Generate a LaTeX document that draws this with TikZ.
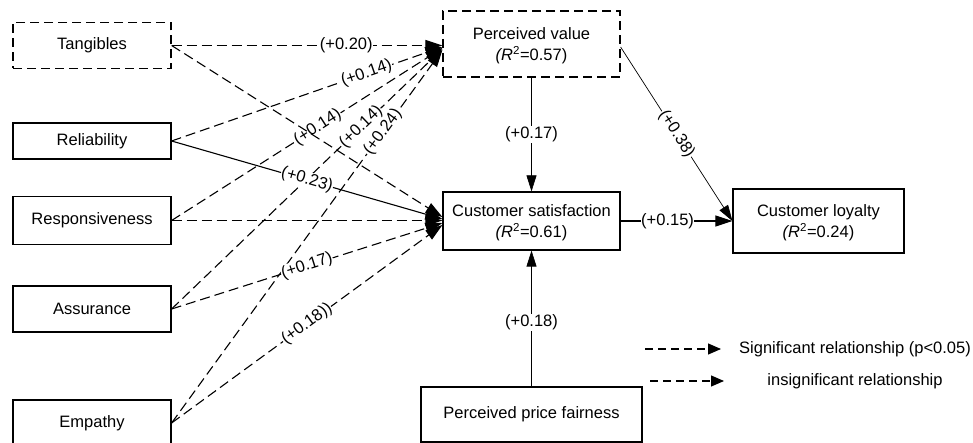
\documentclass[tikz,border=0pt]{standalone}
\usepackage{fontspec}
\setmainfont{Liberation Sans}
\usetikzlibrary{arrows.meta}
\begin{document}
\begin{tikzpicture}[x=1pt,y=-1pt,
  font=\fontsize{16.5}{21}\selectfont,
  box/.style={draw, line width=1.2pt, inner sep=0pt, align=center},
  dbox/.style={box, dash pattern=on 9pt off 5pt},
  two/.style={text depth=0pt},
  sig/.style={line width=1.1pt, -{Triangle[length=17pt,width=11pt]}},
  ins/.style={sig, dash pattern=on 10pt off 5pt},
  thinarr/.style={line width=0.7pt, -{Triangle[length=16pt,width=10pt]}},
  legarr/.style={line width=1.2pt, dash pattern=on 8pt off 5pt, -{Triangle[length=13pt,width=11pt]}},
  lab/.style={fill=white, inner sep=0.5pt, sloped},
  hlab/.style={fill=white, inner sep=0.5pt}]
\useasboundingbox (0,0) rectangle (973,443);

% left constructs
\node[dbox, minimum width=158pt, minimum height=46pt] (tang) at (92,45.5) {Tangibles};
\node[box, minimum width=158pt, minimum height=36pt] (rel) at (92,141) {Reliability};
\node[box, minimum width=158pt, minimum height=48pt] (resp) at (92,220.5) {Responsiveness};
\node[box, minimum width=158pt, minimum height=46pt] (assur) at (92,309) {Assurance};
\node[box, minimum width=158pt, minimum height=46pt] (emp) at (92,423) {Empathy};

% central / right constructs
\node[dbox, two, minimum width=177pt, minimum height=66pt] (pv) at (531.5,44) {Perceived value\\\textit{(R}\textsuperscript{2}=0.57)};
\node[box, two, minimum width=177pt, minimum height=58pt] (cs) at (531.5,221) {Customer satisfaction\\\textit{(R}\textsuperscript{2}=0.61)};
\node[box, two, minimum width=171pt, minimum height=64pt] (cl) at (818.5,221) {Customer loyalty\\\textit{(R}\textsuperscript{2}=0.24)};
\node[box, minimum width=221pt, minimum height=55pt] (ppf) at (531.5,414.5) {Perceived price fairness};

% paths to perceived value
\draw[ins] (tang.east) -- node[hlab,pos=0.645]{(+0.20)} ([yshift=-1.5pt]pv.west);
\draw[ins] (rel.east) -- node[lab,pos=0.72]{(+0.14)} ([yshift=-3pt]pv.west);
\draw[ins] (resp.east) -- node[lab,pos=0.54]{(+0.14)} ([yshift=-4pt]pv.west);
\draw[ins] (assur.east) -- node[lab,pos=0.70]{(+0.14)} ([yshift=-5pt]pv.west);
\draw[ins] (emp.east) -- node[lab,pos=0.78]{(+0.24)} ([yshift=-6pt]pv.west);

% paths to customer satisfaction
\draw[ins] (tang.east) -- ([yshift=4pt]cs.west);
\draw[sig] (rel.east) -- node[lab,pos=0.5]{(+0.23)} ([yshift=2pt]cs.west);
\draw[ins] (resp.east) -- ([yshift=0.5pt]cs.west);
\draw[ins] (assur.east) -- node[lab,pos=0.5]{(+0.17)} ([yshift=-2pt]cs.west);
\draw[ins] (emp.east) -- node[lab,pos=0.5]{(+0.18))} ([yshift=-4pt]cs.west);

% other paths
\draw[thinarr] (pv.south) -- node[hlab]{(+0.17)} (cs.north);
\draw[thinarr] ([yshift=-3pt]pv.east) -- node[lab]{(+0.38)} (cl.west);
\draw[sig] (cs.east) -- node[hlab,pos=0.42]{(+0.15)} (cl.west);
\draw[thinarr] (ppf.north) -- node[hlab,pos=0.47]{(+0.18)} (cs.south);

% legend
\coordinate (l1a) at (645,349);
\coordinate (l1b) at (721,349);
\coordinate (l2a) at (650,381);
\coordinate (l2b) at (724,381);
\draw[legarr] (l1a) -- (l1b);
\draw[legarr] (l2a) -- (l2b);
\node (t1) at (855,349) {Significant relationship (p<0.05)};
\node (t2) at (855,381) {insignificant relationship};
\end{tikzpicture}
\end{document}
